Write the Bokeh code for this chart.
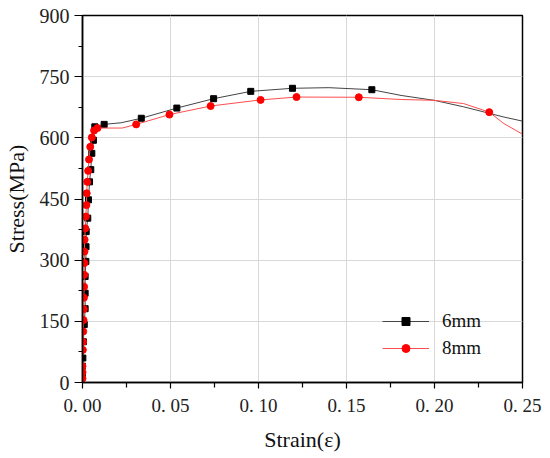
from bokeh.plotting import figure
from bokeh.models import FixedTicker, Range1d, Legend, LegendItem
from bokeh.embed import file_html
from bokeh.resources import INLINE

# 6mm curve (line)
strain_6 = [0, 0, 0, 0.0002, 0.0003, 0.0005, 0.0010, 0.0015, 0.0015, 0.0015, 0.0019, 0.0020,
            0.0021, 0.0030, 0.0034, 0.0040, 0.0047, 0.0053, 0.0062, 0.0070, 0.0123, 0.022,
            0.0334, 0.0536, 0.0745, 0.0956, 0.1193, 0.14, 0.1644, 0.181, 0.1998, 0.2166,
            0.2394, 0.25]
stress_6 = [0, 20, 40, 60, 80, 100, 142, 181, 219, 260, 297, 333,
            370, 403, 448, 492, 522, 562, 594, 627, 633, 637,
            648, 673, 696, 714, 721.5, 723, 718, 704, 692, 676,
            651, 641]
# 6mm markers
mk_strain_6 = [0, 0, 0.0002, 0.0005, 0.0010, 0.0015, 0.0015, 0.0015, 0.0019, 0.0020,
               0.0021, 0.0030, 0.0034, 0.0040, 0.0047, 0.0053, 0.0062, 0.0070, 0.0123,
               0.0334, 0.0536, 0.0745, 0.0956, 0.1193, 0.1644]
mk_stress_6 = [20, 40, 60, 100, 142, 181, 219, 260, 297, 333,
               370, 403, 448, 492, 522, 562, 594, 627, 633,
               648, 673, 696, 714, 721.5, 718]

# 8mm curve (line)
strain_8 = [0, 0, 0, 0, 0, 0.0002, 0.0003, 0.0004, 0.0006, 0.0007, 0.0008, 0.0009, 0.0010,
            0.0011, 0.0011, 0.0012, 0.0016, 0.0019, 0.0022, 0.0024, 0.0027, 0.0032, 0.0037,
            0.0044, 0.0053, 0.0066, 0.0085, 0.0226, 0.0305, 0.0494, 0.0728, 0.1012, 0.1216,
            0.157, 0.181, 0.1998, 0.2166, 0.2311, 0.2394, 0.25]
stress_8 = [0, 10, 25, 40, 60, 80, 100, 125, 153, 180, 208, 235, 264,
            293, 321, 350, 378, 407, 435, 464, 492, 519, 547,
            578, 601, 618, 624, 624, 633, 657, 678, 693, 700,
            699.5, 694, 692, 684, 663, 635, 609]
# 8mm markers
mk_strain_8 = [0, 0, 0, 0.0002, 0.0003, 0.0004, 0.0006, 0.0007, 0.0008, 0.0009, 0.0010,
               0.0011, 0.0011, 0.0012, 0.0016, 0.0019, 0.0022, 0.0024, 0.0027, 0.0032, 0.0037,
               0.0044, 0.0053, 0.0066, 0.0085, 0.0305, 0.0494, 0.0728, 0.1012, 0.1216,
               0.157, 0.2311]
mk_stress_8 = [10, 25, 40, 80, 100, 125, 153, 180, 208, 235, 264,
               293, 321, 350, 378, 407, 435, 464, 492, 519, 547,
               578, 601, 618, 624, 633, 657, 678, 693, 700,
               699.5, 663]

x_ticks = [0, 0.05, 0.10, 0.15, 0.20, 0.25]
x_labels = ["0. 00", "0. 05", "0. 10", "0. 15", "0. 20", "0. 25"]
x_minor = [0.025, 0.075, 0.125, 0.175, 0.225]
y_ticks = [0, 150, 300, 450, 600, 750, 900]
y_minor = [75, 225, 375, 525, 675, 825]

FONT = "Liberation Serif"

p = figure(width=546, height=454, output_backend="svg", toolbar_location=None,
           x_range=Range1d(0, 0.25), y_range=Range1d(0, 900),
           min_border_left=80, min_border_right=24, min_border_top=15, min_border_bottom=71)
p.background_fill_color = "white"
p.border_fill_color = "white"
p.outline_line_color = "black"
p.outline_line_width = 1.5

p.xaxis.ticker = FixedTicker(ticks=x_ticks, minor_ticks=x_minor)
p.xaxis.major_label_overrides = {t: l for t, l in zip(x_ticks, x_labels)}
p.yaxis.ticker = FixedTicker(ticks=y_ticks, minor_ticks=y_minor)

for ax in (p.xaxis[0], p.yaxis[0]):
    ax.axis_line_width = 1.5
    ax.axis_line_color = "black"
    ax.major_tick_line_color = "black"
    ax.minor_tick_line_color = "black"
    ax.major_tick_line_width = 1.2
    ax.minor_tick_line_width = 1.2
    ax.major_tick_in = 0
    ax.minor_tick_in = 0
    ax.major_label_text_font = FONT
    ax.major_label_text_color = "#222222"
    ax.axis_label_text_font = FONT
    ax.axis_label_text_font_style = "normal"
    ax.axis_label_text_font_size = "22px"
    ax.axis_label_text_color = "#111111"

p.xaxis.major_tick_out = 6
p.xaxis.minor_tick_out = 5
p.yaxis.major_tick_out = 8
p.yaxis.minor_tick_out = 4
p.xaxis.major_label_text_font_size = "19px"
p.yaxis.major_label_text_font_size = "20px"
p.xaxis.major_label_standoff = 6
p.yaxis.major_label_standoff = 5
p.xaxis.axis_label = "Strain(ε)"
p.yaxis.axis_label = "Stress(MPa)"
p.xaxis.axis_label_standoff = 8
p.yaxis.axis_label_standoff = 8

p.xgrid.ticker = FixedTicker(ticks=x_ticks)
p.ygrid.ticker = FixedTicker(ticks=y_ticks)
p.grid.grid_line_color = "#d9d9d9"
p.grid.grid_line_width = 1

l6 = p.line(strain_6, stress_6, line_color="#444444", line_width=1)
s6 = p.scatter(mk_strain_6, mk_stress_6, marker="square", size=6,
               fill_color="black", line_color="black")
l8 = p.line(strain_8, stress_8, line_color="#ff4d4d", line_width=1)
s8 = p.scatter(mk_strain_8, mk_stress_8, marker="circle", size=7,
               fill_color="#ff0000", line_color="#ff0000")

legend = Legend(items=[LegendItem(label="6mm", renderers=[l6, s6]),
                       LegendItem(label="8mm", renderers=[l8, s8])],
                location=(300, 23))
legend.border_line_color = None
legend.background_fill_alpha = 0
legend.padding = 0
legend.margin = 0
legend.spacing = 5
legend.glyph_width = 47
legend.glyph_height = 20
legend.label_height = 20
legend.label_standoff = 13
legend.label_text_font = FONT
legend.label_text_font_size = "19px"
legend.label_text_color = "#111111"
p.add_layout(legend, "center")

open("out.html", "w").write(file_html(p, INLINE))
